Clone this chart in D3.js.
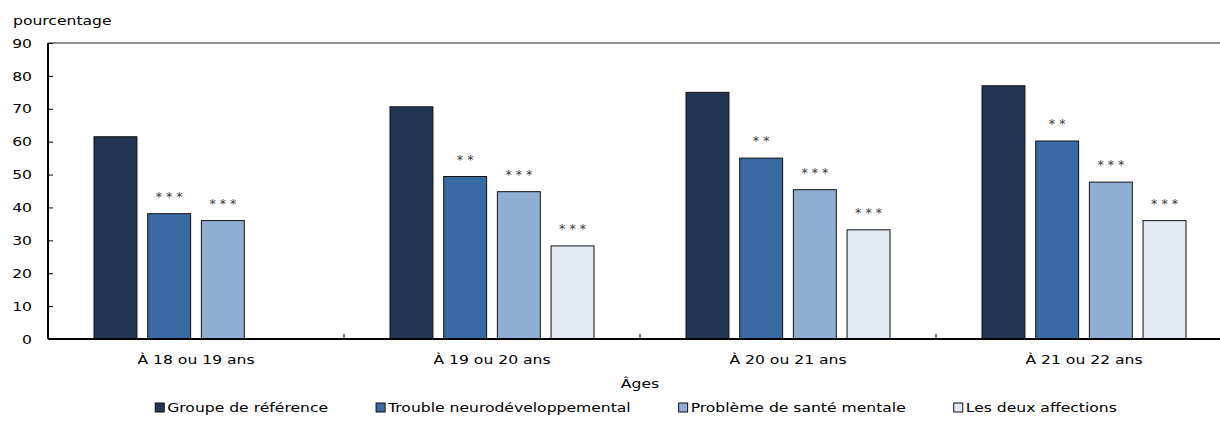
<!DOCTYPE html>
<html><head><meta charset="utf-8">
<script src="https://cdn.jsdelivr.net/npm/d3@7"></script>
<style>
body{margin:0;background:#fff;}
text{font-family:"DejaVu Sans",Verdana,sans-serif;}
</style></head>
<body><svg id="c" width="1220" height="424"></svg>
<script>
const categories = ["À 18 ou 19 ans","À 19 ou 20 ans","À 20 ou 21 ans","À 21 ou 22 ans"];
const seriesNames = ["Groupe de référence","Trouble neurodéveloppemental","Problème de santé mentale","Les deux affections"];
const refGroup = [61.5, 70.6, 75.0, 77.0];
const neuro    = [38.1, 49.4, 55.0, 60.2];
const mental   = [36.0, 44.8, 45.4, 47.7];
const both     = [null, 28.3, 33.2, 36.0];
const refStars    = ["", "", "", ""];
const neuroStars  = ["***", "**", "**", "**"];
const mentalStars = ["***", "***", "***", "***"];
const bothStars   = ["", "***", "***", "***"];
const yTicks = [0,10,20,30,40,50,60,70,80,90];
const colors = ["#223553","#3a6aa3","#8eaed4","#e2eaf4"];

const values = [refGroup, neuro, mental, both];
const stars = [refStars, neuroStars, mentalStars, bothStars];
const SX = 1.2; // horizontal text stretch

const svg = d3.select("#c");
const mLeft = 48, mRight = 1232, mTop = 43, mBottom = 339;
const x0 = d3.scaleBand().domain(categories).range([mLeft, mRight]).padding(0);
const bw = x0.bandwidth();
const x1 = d3.scaleBand().domain(seriesNames).range([46, bw-46]).paddingInner(0.2).paddingOuter(0);
const y = d3.scaleLinear().domain([0,90]).range([mBottom, mTop]);

function label(sel, x, yy, txt, anchor){
  return sel.append("text").attr("transform",`translate(${x},${yy}) scale(${SX},1)`)
    .attr("text-anchor",anchor||"start").attr("font-size",13).attr("fill","#000").text(txt);
}

// top border
svg.append("line").attr("x1",mLeft).attr("x2",1220).attr("y1",mTop).attr("y2",mTop).attr("stroke","#222").attr("stroke-width",1.2);

// bars
const data = [];
categories.forEach((c,i)=>seriesNames.forEach((s,j)=>{
  if(values[j][i]!=null) data.push({c,s,j,v:values[j][i],st:stars[j][i]});
}));
const g = svg.append("g");
g.selectAll("rect").data(data).join("rect")
  .attr("x",d=>x0(d.c)+x1(d.s)).attr("width",x1.bandwidth())
  .attr("y",d=>y(d.v)).attr("height",d=>y(0)-y(d.v))
  .attr("fill",d=>colors[d.j]).attr("stroke","#111").attr("stroke-width",1);
g.selectAll("text.st").data(data.filter(d=>d.st)).join("text").attr("class","st")
  .attr("transform",d=>`translate(${x0(d.c)+x1(d.s)+x1.bandwidth()/2},${y(d.v)-13}) scale(1.05,1)`)
  .attr("text-anchor","middle").attr("font-size",12).attr("fill","#3a3a3a")
  .text(d=>d.st.split("").join(" "));

// y axis
const ya = svg.append("g").attr("transform",`translate(${mLeft},0)`)
  .call(d3.axisRight(y).tickValues(yTicks).tickSize(5).tickFormat(d3.format("d")));
ya.select(".domain").attr("stroke","#000").attr("stroke-width",2).attr("d",`M0,${mTop}V${mBottom}`);
ya.selectAll(".tick line").attr("stroke","#000");
ya.selectAll(".tick text").attr("x",-16/SX).attr("text-anchor","end").attr("font-size",13).attr("fill","#000")
  .attr("transform",`scale(${SX},1)`);

// x axis
const xa = svg.append("g").attr("transform",`translate(0,${mBottom})`)
  .call(d3.axisBottom(x0).tickSize(0).tickPadding(16));
xa.select(".domain").attr("stroke","#000").attr("stroke-width",2).attr("d",`M${mLeft},0H1220`);
xa.selectAll(".tick text").attr("font-size",13).attr("fill","#000").attr("transform",`scale(${SX},1)`);
// separators
svg.append("g").selectAll("line").data(categories.slice(1)).join("line")
  .attr("x1",d=>x0(d)).attr("x2",d=>x0(d)).attr("y1",mBottom).attr("y2",mBottom-5)
  .attr("stroke","#000").attr("stroke-width",1);

label(svg, 13, 25, "pourcentage");
label(svg, 640, 388, "Âges", "middle");

// legend: centred, equal gaps
const lg = svg.append("g").selectAll("g").data(seriesNames).join("g");
lg.append("rect").attr("x",0).attr("y",-9).attr("width",9).attr("height",9)
  .attr("fill",(d,i)=>colors[i]).attr("stroke","#111").attr("stroke-width",1);
const widths = [];
lg.each(function(d){ const t = label(d3.select(this), 12, 0, d); widths.push(12 + t.node().getComputedTextLength()*SX); });
const gap = 48;
const total = d3.sum(widths) + gap*(widths.length-1);
let cx = 636 - total/2;
const legX = widths.map(w=>{ const p = cx; cx += w + gap; return p; });
lg.attr("transform",(d,i)=>`translate(${legX[i]},412)`);
</script></body></html>
